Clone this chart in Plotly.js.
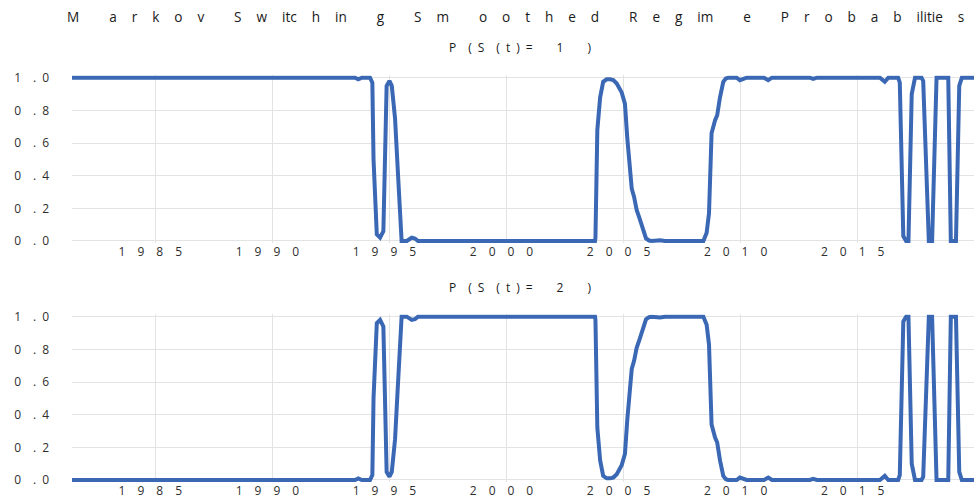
<!DOCTYPE html>
<html>
<head>
<meta charset="utf-8">
<script src="https://cdn.plot.ly/plotly-3.0.1.min.js"></script>
<style>html,body{margin:0;padding:0;background:#fff;}#chart{width:975px;height:498px;}</style>
</head>
<body>
<div id="chart"></div>
<script>
// Dates (decimal years) of the line vertices
const dates = [
  1981.44, 1993.53, 1993.67, 1993.82, 1994.17, 1994.27, 1994.32, 1994.46, 1994.60, 1994.74,
  1994.88, 1995.00, 1995.10, 1995.24, 1995.35, 1995.43, 1995.52, 1995.74, 1995.95, 1996.09,
  1996.22, 2003.78, 2003.80, 2003.88, 2004.00, 2004.13, 2004.28, 2004.42, 2004.56, 2004.71,
  2004.85, 2004.92, 2005.00, 2005.06, 2005.16, 2005.25, 2005.35, 2005.45, 2005.56, 2005.68,
  2005.77, 2005.87, 2005.96, 2006.09, 2006.20, 2006.56, 2006.77, 2008.41, 2008.55, 2008.65,
  2008.70, 2008.76, 2008.91, 2009.00, 2009.12, 2009.26, 2009.37, 2009.47, 2009.83, 2009.97,
  2010.26, 2011.00, 2011.18, 2011.34, 2012.96, 2013.10, 2013.26, 2013.82, 2013.96, 2014.12,
  2015.95, 2016.16, 2016.31, 2016.73, 2016.80, 2016.95, 2017.07, 2017.17, 2017.31, 2017.45,
  2017.73, 2017.80, 2018.04, 2018.18, 2018.37, 2018.87, 2018.98, 2019.20, 2019.34, 2019.45,
  2019.97
];
// P(S(t)=1)
const probRegime1 = [
  1.0, 1.0, 0.99, 1.0, 1.0, 0.97, 0.5, 0.04, 0.02, 0.06,
  0.95, 0.98, 0.95, 0.75, 0.45, 0.2, 0.0, 0.0, 0.02, 0.015,
  0.0, 0.0, 0.02, 0.68, 0.88, 0.975, 0.99, 0.99, 0.985, 0.965,
  0.93, 0.91, 0.87, 0.84, 0.63, 0.5, 0.32, 0.27, 0.19, 0.14,
  0.1, 0.05, 0.016, 0.003, 0.0, 0.005, 0.0, 0.0, 0.05, 0.17,
  0.5, 0.66, 0.74, 0.77, 0.88, 0.975, 0.995, 1.0, 1.0, 0.985,
  1.0, 1.0, 0.985, 1.0, 1.0, 0.993, 1.0, 1.0, 0.995, 1.0,
  1.0, 0.975, 1.0, 1.0, 0.97, 0.03, 0.0, 0.0, 0.9, 1.0,
  1.0, 0.98, 0.0, 0.0, 1.0, 1.0, 0.0, 0.0, 0.95, 1.0,
  1.0
];
// P(S(t)=2)
const probRegime2 = [
  0.0, 0.0, 0.01, 0.0, 0.0, 0.03, 0.5, 0.96, 0.98, 0.94,
  0.05, 0.02, 0.05, 0.25, 0.55, 0.8, 1.0, 1.0, 0.98, 0.985,
  1.0, 1.0, 0.98, 0.32, 0.12, 0.025, 0.01, 0.01, 0.015, 0.035,
  0.07, 0.09, 0.13, 0.16, 0.37, 0.5, 0.68, 0.73, 0.81, 0.86,
  0.9, 0.95, 0.984, 0.997, 1.0, 0.995, 1.0, 1.0, 0.95, 0.83,
  0.5, 0.34, 0.26, 0.23, 0.12, 0.025, 0.005, 0.0, 0.0, 0.015,
  0.0, 0.0, 0.015, 0.0, 0.0, 0.007, 0.0, 0.0, 0.005, 0.0,
  0.0, 0.025, 0.0, 0.0, 0.03, 0.97, 1.0, 1.0, 0.1, 0.0,
  0.0, 0.02, 1.0, 1.0, 0.0, 0.0, 1.0, 1.0, 0.05, 0.0,
  0.0
];
// Tick labels
const xTickVals = [1985, 1990, 1995, 2000, 2005, 2010, 2015];
const xTickText = ["1\u20039\u20038\u20035", "1\u20039\u20039\u20030", "1\u20039\u20039\u20035",
                   "2\u20030\u20030\u20030", "2\u20030\u20030\u20035", "2\u20030\u20031\u20030", "2\u20030\u20031\u20035"];
const yTickVals = [0, 0.2, 0.4, 0.6, 0.8, 1.0];
const yTickText = ["0\u2003.\u20020", "0\u2003.\u20022", "0\u2003.\u20024", "0\u2003.\u20026", "0\u2003.\u20028", "1\u2003.\u20020"];
const S = "\u2003\u200A";
const chartTitle = ["M", "", "a", "r", "k", "o", "v", "", "S", "w", "itc", "h", "in", "", "g", "", "S", "m", "", "o", "o", "t", "h", "e", "d", "", "R", "e", "g", "im", "", "e", "", "P", "r", "o", "b", "a", "b", "ilitie", "s"].join(S);
const panelTitle1 = "P\u2003(\u2002S\u2003(\u2002t\u2002)\u2002=\u2003\u20031\u2003\u2003)";
const panelTitle2 = "P\u2003(\u2002S\u2003(\u2002t\u2002)\u2002=\u2003\u20032\u2003\u2003)";

const lineColor = "#3a68b4";
const gridColor = "#e3e3e3";
const textColor = "#2e2e2e";
const fontFam = "'Open Sans', 'Noto Sans', sans-serif";

const traces = [
  {x: dates, y: probRegime1, type: "scatter", mode: "lines", xaxis: "x", yaxis: "y",
   line: {color: lineColor, width: 4}, hoverinfo: "skip"},
  {x: dates, y: probRegime2, type: "scatter", mode: "lines", xaxis: "x2", yaxis: "y2",
   line: {color: lineColor, width: 4}, hoverinfo: "skip"}
];

const xRange = [1981.44, 2019.97];
const yRange = [-0.015, 1.015];
function xAxis(anchor) {
  return {anchor: anchor, range: xRange, tickmode: "array", tickvals: xTickVals, ticktext: xTickText,
    showgrid: true, gridcolor: gridColor, gridwidth: 1, zeroline: false, showline: false, ticks: "",
    tickfont: {family: fontFam, size: 12, color: textColor}, ticklabelshift: -5, automargin: false};
}
function yAxis(anchor, domain) {
  return {anchor: anchor, domain: domain, range: yRange, tickmode: "array", tickvals: yTickVals, ticktext: yTickText,
    showgrid: true, gridcolor: gridColor, gridwidth: 1, zeroline: false, showline: false, ticks: "",
    tickfont: {family: fontFam, size: 12, color: textColor}, ticklabelstandoff: 22, automargin: false};
}

const layout = {
  width: 975, height: 498,
  margin: {l: 72, r: 1, t: 0, b: 0},
  paper_bgcolor: "#ffffff", plot_bgcolor: "#ffffff",
  showlegend: false,
  xaxis: xAxis("y"),
  yaxis: yAxis("x", [0.51114, 0.84890]),
  xaxis2: xAxis("y2"),
  yaxis2: yAxis("x2", [0.03122, 0.36898]),
  annotations: [
    {text: chartTitle, xref: "paper", yref: "paper", x: 0.4912, y: 1 - 17/498, xanchor: "center", yanchor: "middle",
     showarrow: false, font: {family: fontFam, size: 13.6, color: "#1a1a1a"}},
    {text: panelTitle1, xref: "paper", yref: "paper", x: 0.4967, y: 1 - 48/498, xanchor: "center", yanchor: "middle",
     showarrow: false, font: {family: fontFam, size: 12, color: "#1a1a1a"}},
    {text: panelTitle2, xref: "paper", yref: "paper", x: 0.4967, y: 1 - 287/498, xanchor: "center", yanchor: "middle",
     showarrow: false, font: {family: fontFam, size: 12, color: "#1a1a1a"}}
  ]
};

Plotly.newPlot("chart", traces, layout, {staticPlot: true, displayModeBar: false});
</script>
</body>
</html>
